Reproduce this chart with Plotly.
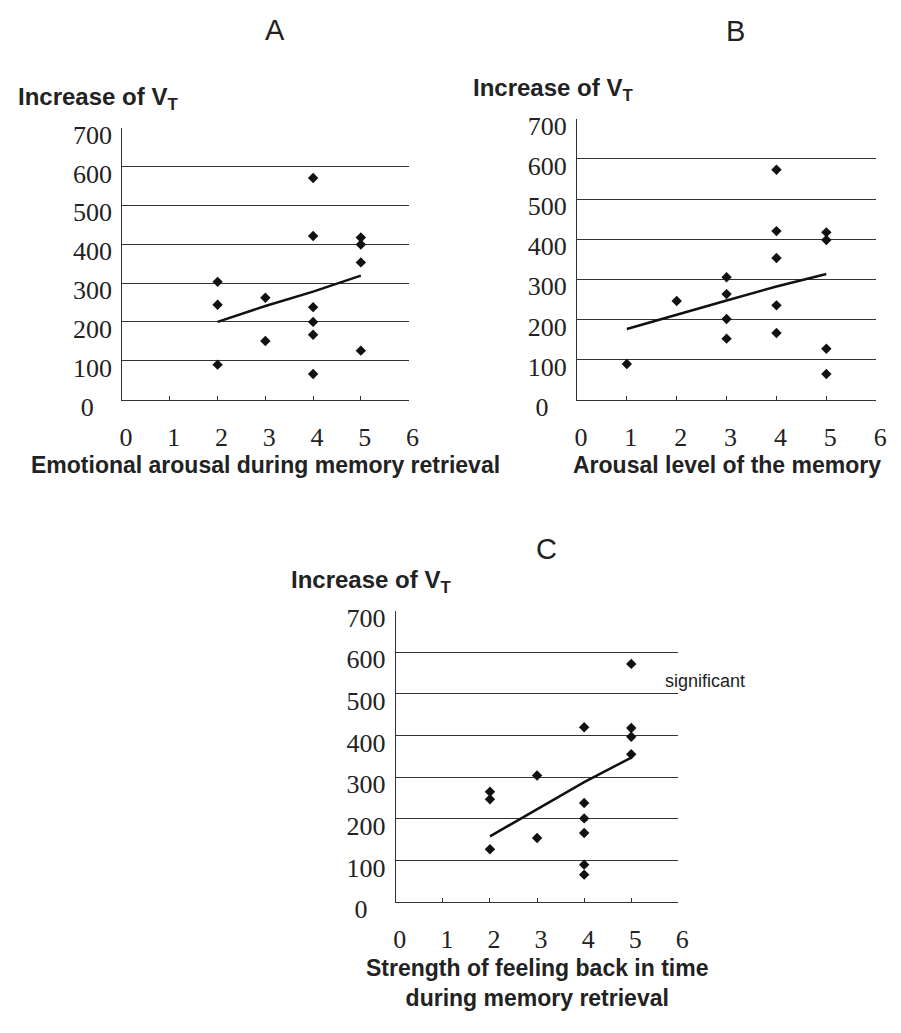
import plotly.graph_objects as go

# ---------------- data ----------------
a_x = [2, 2, 2, 3, 3, 4, 4, 4, 4, 4, 4, 5, 5, 5, 5]
a_y = [303, 244, 90, 262, 151, 570, 421, 238, 200, 167, 66, 417, 399, 353, 126]
a_trend_x = [2, 3, 4, 5]
a_trend_y = [200, 241, 278, 319]

b_x = [1, 2, 3, 3, 3, 3, 4, 4, 4, 4, 4, 5, 5, 5, 5]
b_y = [89, 246, 305, 263, 201, 152, 573, 420, 353, 235, 166, 417, 398, 127, 64]
b_trend_x = [1, 2, 3, 4, 5]
b_trend_y = [176, 212, 247, 282, 313]

c_x = [2, 2, 2, 3, 3, 4, 4, 4, 4, 4, 4, 5, 5, 5, 5]
c_y = [265, 247, 127, 304, 154, 420, 238, 201, 166, 90, 66, 572, 418, 397, 355]
c_trend_x = [2, 3, 4, 5]
c_trend_y = [158, 224, 288, 347]

x_ticks = [0, 1, 2, 3, 4, 5, 6]
y_ticks = [0, 100, 200, 300, 400, 500, 600, 700]

panel_letters = ["A", "B", "C"]
y_title = "Increase of V<sub>T</sub>"
x_titles = [
    "Emotional arousal during memory retrieval",
    "Arousal level of the memory",
    "Strength of feeling back in time<br>during memory retrieval",
]
note_text = "significant"

# ---------------- layout helpers ----------------
W, H = 901, 1033
INK = "#222222"
SERIF = "Liberation Serif, Times New Roman, serif"
SANS = "Liberation Sans, Arial, sans-serif"

# plot boxes in pixels: (left, right, top, bottom)
boxes = [(121, 412, 124, 404), (583, 887, 115, 404), (399, 686, 621, 921)]

def px_x(p):
    return p / W

def px_y(p):
    return 1 - p / H

fig = go.Figure()

series = [
    (a_x, a_y, a_trend_x, a_trend_y),
    (b_x, b_y, b_trend_x, b_trend_y),
    (c_x, c_y, c_trend_x, c_trend_y),
]

for i, (sx, sy, tx, ty) in enumerate(series):
    n = "" if i == 0 else str(i + 1)
    fig.add_trace(go.Scatter(
        x=tx, y=ty, mode="lines", xaxis="x" + n, yaxis="y" + n,
        line=dict(color="#111111", width=2.5), showlegend=False, hoverinfo="skip"))
    fig.add_trace(go.Scatter(
        x=sx, y=sy, mode="markers", xaxis="x" + n, yaxis="y" + n,
        marker=dict(symbol="diamond", size=8, color="#111111", line=dict(width=0)),
        showlegend=False))

layout = dict(
    width=W, height=H, margin=dict(l=0, r=0, t=0, b=0),
    paper_bgcolor="white", plot_bgcolor="white", showlegend=False,
)

# the zero label sits a little further left in the original
y_ticktext = [str(v) + ("\u2002\u2009" if v == 0 else "") for v in y_ticks]

annotations = []
for i, (l, r, t, b) in enumerate(boxes):
    n = "" if i == 0 else str(i + 1)
    layout["xaxis" + n] = dict(
        domain=[px_x(l), px_x(r)], anchor="y" + n, range=[0, 6],
        tickvals=x_ticks, ticktext=[str(v) for v in x_ticks],
        showgrid=False, zeroline=False, showline=True, linecolor="#333333", linewidth=1,
        ticks="inside", ticklen=4, tickcolor="#333333", tickwidth=1,
        tickfont=dict(family=SERIF, size=26, color=INK),
        ticklabelstandoff=14, ticklabelshift=4,
    )
    layout["yaxis" + n] = dict(
        domain=[px_y(b), px_y(t)], anchor="x" + n, range=[0, 700],
        tickvals=y_ticks, ticktext=y_ticktext,
        showgrid=True, gridcolor="#333333", gridwidth=1,
        zeroline=False, showline=True, linecolor="#333333", linewidth=1,
        ticks="", tickfont=dict(family=SERIF, size=26, color=INK),
        ticklabelstandoff=4, ticklabelshift=7,
    )
    annotations.append(dict(
        xref="paper", yref="paper", x=px_x(l - 108), y=px_y(t - 30),
        xanchor="left", yanchor="middle", showarrow=False,
        text="<b>" + y_title + "</b>", font=dict(family=SANS, size=24, color=INK)))
    if i < 2:
        annotations.append(dict(
            xref="paper", yref="paper", x=px_x((l + r) / 2), y=px_y(b + 67),
            xanchor="center", yanchor="middle", showarrow=False,
            text="<b>" + x_titles[i] + "</b>", font=dict(family=SANS, size=23, color=INK)))
    else:
        annotations.append(dict(
            xref="paper", yref="paper", x=px_x((l + r) / 2), y=px_y(b + 83),
            xanchor="center", yanchor="middle", showarrow=False, align="center",
            text="<b>" + x_titles[i] + "</b>", font=dict(family=SANS, size=23, color=INK)))

letter_pos = [(276, 24), (744, 25), (552, 558)]
for letter, (lx, ly) in zip(panel_letters, letter_pos):
    annotations.append(dict(
        xref="paper", yref="paper", x=px_x(lx), y=px_y(ly),
        xanchor="center", yanchor="middle", showarrow=False,
        text=letter, font=dict(family=SANS, size=29, color=INK)))

annotations.append(dict(
    xref="paper", yref="paper", x=px_x(670), y=px_y(693),
    xanchor="left", yanchor="middle", showarrow=False,
    text=note_text, font=dict(family=SANS, size=18, color=INK)))

layout["annotations"] = annotations
fig.update_layout(**layout)
fig.write_html("out.html")
